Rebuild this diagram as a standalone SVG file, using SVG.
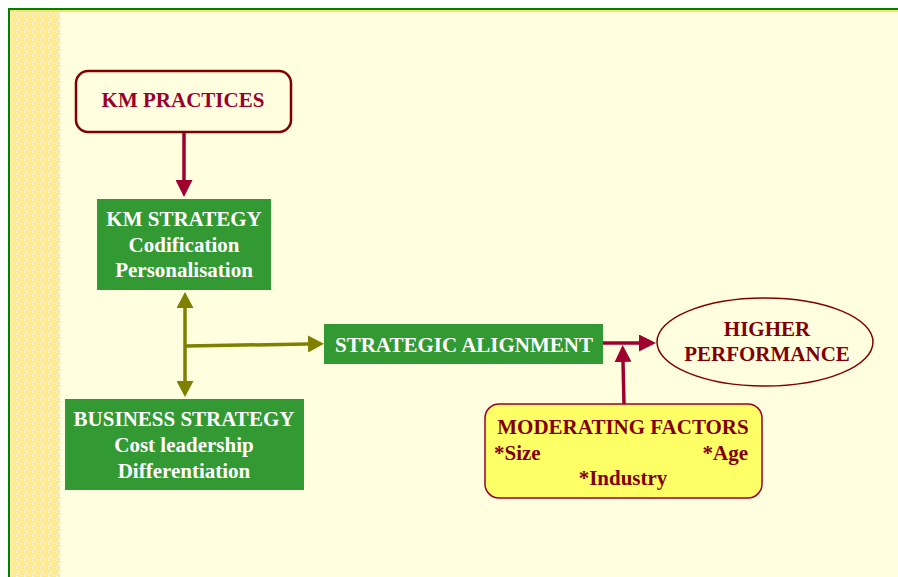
<svg xmlns="http://www.w3.org/2000/svg" width="898" height="577" viewBox="0 0 898 577">
<defs>
<style>
.t{font-family:"Liberation Serif","Times New Roman",serif;font-weight:bold;font-size:21px;text-anchor:middle}
.w{fill:#ffffff}
.r{fill:#99002e}
.d{fill:#800000}
.g{fill:#339933}
</style>
<pattern id="tex" width="8" height="8" patternUnits="userSpaceOnUse">
<rect width="8" height="8" fill="#fde98f"/>
<rect x="0" y="0" width="2" height="1" fill="#fff6c8"/>
<rect x="4" y="1" width="3" height="1" fill="#fff3b8"/>
<rect x="2" y="3" width="2" height="2" fill="#fff8d4"/>
<rect x="6" y="4" width="2" height="1" fill="#fff1b0"/>
<rect x="0" y="6" width="3" height="1" fill="#fff6c8"/>
<rect x="5" y="6" width="1" height="2" fill="#fff8d4"/>
</pattern>
<marker id="ar" markerWidth="17" markerHeight="17" refX="0" refY="8.5" orient="auto" markerUnits="userSpaceOnUse" viewBox="0 0 17 17">
<path d="M0,0 L17,8.5 L0,17 Z" fill="#a00030"/>
</marker>
<marker id="ao" markerWidth="16" markerHeight="17" refX="0" refY="8.5" orient="auto" markerUnits="userSpaceOnUse" viewBox="0 0 16 17">
<path d="M0,0 L16,8.5 L0,17 Z" fill="#808000"/>
</marker>
<marker id="ao2" markerWidth="16" markerHeight="17" refX="16" refY="8.5" orient="auto" markerUnits="userSpaceOnUse" viewBox="0 0 16 17">
<path d="M16,0 L0,8.5 L16,17 Z" fill="#808000"/>
</marker>
</defs>
<rect width="898" height="577" fill="#ffffff"/>
<rect x="10" y="10" width="888" height="567" fill="#ffffe0"/>
<rect x="10" y="12" width="50" height="565" fill="url(#tex)"/>
<rect x="10" y="10" width="888" height="2" fill="#f5e36a"/>
<rect x="8" y="8" width="890" height="2" fill="#008000"/>
<rect x="8" y="8" width="2" height="569" fill="#008000"/>
<g id="connectors" fill="none">
<line x1="184" y1="132" x2="184" y2="180" stroke="#a00030" stroke-width="3.5" marker-end="url(#ar)"/>
<line x1="185" y1="308" x2="185" y2="381" stroke="#808000" stroke-width="3.5" marker-start="url(#ao2)" marker-end="url(#ao)"/>
<line x1="186" y1="346" x2="308" y2="344" stroke="#808000" stroke-width="3.5" marker-end="url(#ao)"/>
<line x1="603" y1="343" x2="639" y2="343" stroke="#a00030" stroke-width="3.5" marker-end="url(#ar)"/>
<line x1="624" y1="404" x2="623" y2="362" stroke="#a00030" stroke-width="3.5" marker-end="url(#ar)"/>
</g>
<g id="km-practices">
<rect x="76" y="71" width="215" height="61" rx="12" fill="#ffffe0" stroke="#800000" stroke-width="2.5"/>
<text x="183" y="107" class="t r">KM PRACTICES</text>
</g>
<g id="km-strategy">
<rect x="97" y="199" width="174" height="91" class="g"/>
<text x="184" y="226" class="t w">KM STRATEGY</text>
<text x="184" y="252" class="t w">Codification</text>
<text x="184" y="277" class="t w">Personalisation</text>
</g>
<g id="business-strategy">
<rect x="65" y="399" width="239" height="91" class="g"/>
<text x="184" y="426" class="t w">BUSINESS STRATEGY</text>
<text x="184" y="452" class="t w">Cost leadership</text>
<text x="184" y="478" class="t w">Differentiation</text>
</g>
<g id="strategic-alignment">
<rect x="324" y="324" width="279" height="40" class="g"/>
<text x="464" y="352" class="t w">STRATEGIC ALIGNMENT</text>
</g>
<g id="higher-performance">
<ellipse cx="765" cy="342" rx="108" ry="44" fill="#ffffe0" stroke="#800000" stroke-width="1.5"/>
<text x="767" y="336" class="t d">HIGHER</text>
<text x="767" y="361" class="t d">PERFORMANCE</text>
</g>
<g id="moderating-factors">
<rect x="485" y="404" width="277" height="94" rx="14" fill="#ffff66" stroke="#99002e" stroke-width="1.5"/>
<text x="623" y="434" class="t d">MODERATING FACTORS</text>
<text x="494" y="460" class="t d" style="text-anchor:start">*Size</text>
<text x="748" y="460" class="t d" style="text-anchor:end">*Age</text>
<text x="623" y="485" class="t d">*Industry</text>
</g>
</svg>
